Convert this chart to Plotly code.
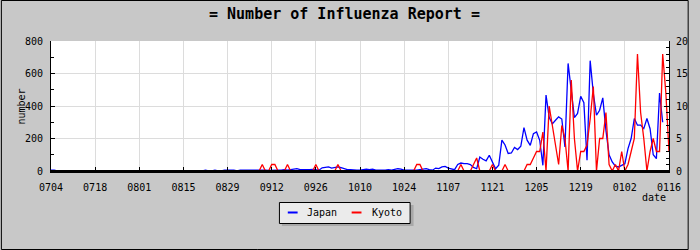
import pandas as pd
import plotly.graph_objects as go

# ---- data (daily reports, 2009-07-04 .. 2010-01-16) ----
start_date = "2009-07-04"
end_date = "2010-01-16"
dates = pd.date_range(start_date, end_date, freq="D")

japan = (
    [5, 5] + [0] * 47 +
    [5, 0, 0, 5, 0, 0, 5, 5, 5, 5, 0, 5, 5, 5, 5, 5, 8, 5, 5, 5,      # 49-68
     3, 5, 5, 5, 5, 8, 5, 8, 10, 14, 8, 8, 5, 8, 10, 8, 5, 20, 22, 25,  # 69-88
     18, 22, 25, 20, 15, 8, 8, 5, 5, 5, 8, 12, 8, 12, 5, 5, 3, 5, 8, 5,  # 89-108
     10, 14, 12, 5, 5, 3, 5, 5, 8, 12, 14, 8, 5, 18, 15, 25, 28, 18, 12, 8,  # 109-128
     40, 49, 45, 45, 40, 22, 14, 86, 72, 62, 97, 55, 14, 35, 190, 160, 108, 111, 145, 132,
     152, 267, 190, 158, 230, 240, 189, 35, 467, 330, 290, 312, 333, 320, 148, 662, 477, 329, 354, 460,
     420, 66, 679, 477, 343, 374, 450, 250, 100, 56, 30, 25, 35, 45, 138, 200, 323, 282, 282, 261,
     323, 260, 100, 76, 480, 300]
)

kyoto = (
    [0] * 67 +
    [1, 0, 0, 1, 1, 0, 0, 0, 1] + [0] * 8 +
    [1] + [0] * 6 + [1] + [0] * 24 +
    [1, 1] + [0] * 12 +
    [1, 0, 0, 0, 1, 2, 0, 0, 0, 0, 1, 0, 0, 0, 1, 0, 0, 0, 0, 0,
     0, 1, 1, 2, 3, 3, 6, 0, 10, 7, 4, 1, 7, 5, 0, 14, 5, 0, 3, 3,
     4, 8, 13, 0, 5, 5, 9, 1, 0, 1, 0, 3, 0, 1, 3, 5, 18, 9, 5, 0,
     3, 5, 3, 3, 18, 12, 3]
)

series_names = ["Japan", "Kyoto"]
series_colors = ["#0000ff", "#ff0000"]
left_ticks = [0, 200, 400, 600, 800]
right_ticks = [0, 5, 10, 15, 20]

MONO = "DejaVu Sans Mono"

fig = go.Figure()
fig.add_trace(go.Scatter(x=dates[:len(japan)], y=japan, name=series_names[0], mode="lines",
                         line=dict(color=series_colors[0], width=1.3), yaxis="y",
                         showlegend=False))
fig.add_trace(go.Scatter(x=dates[:len(kyoto)], y=kyoto, name=series_names[1], mode="lines",
                         line=dict(color=series_colors[1], width=1.3), yaxis="y2",
                         showlegend=False))

L, R, T, B = 51, 20, 41, 79
W, H = 700, 250
pw, ph = W - L - R, H - T - B

def px_x(px):
    return (px - L) / pw

def px_y(py):
    return (H - B - py) / ph

shapes = [
    # outer frame
    dict(type="rect", xref="paper", yref="paper",
         x0=px_x(0.5), x1=px_x(699.5), y0=px_y(249.5), y1=px_y(0.5),
         line=dict(color="#000000", width=1), layer="below"),
    # bottom axis line drawn over both overlaid subplots
    dict(type="line", xref="paper", yref="paper",
         x0=0, x1=1, y0=0, y1=0,
         line=dict(color="#000000", width=2), layer="above"),
    # legend shadow
    dict(type="rect", xref="paper", yref="paper",
         x0=px_x(286), x1=px_x(420), y0=px_y(226), y1=px_y(205),
         fillcolor="#a8a8a8", line=dict(width=0), layer="above"),
    # legend box
    dict(type="rect", xref="paper", yref="paper",
         x0=px_x(283.5), x1=px_x(416.5), y0=px_y(223.5), y1=px_y(202.5),
         fillcolor="#ebebeb", line=dict(color="#000000", width=1), layer="above"),
]
annotations = [
    dict(text="<b>= Number of Influenza Report =</b>", xref="paper", yref="paper",
         x=px_x(350), y=px_y(14), xanchor="center", yanchor="middle",
         showarrow=False, font=dict(family=MONO, size=15)),
    dict(text="date", xref="paper", yref="paper",
         x=px_x(679), y=px_y(197), xanchor="right", yanchor="middle",
         showarrow=False, font=dict(family=MONO, size=10)),
    dict(text="number", xref="paper", yref="paper", textangle=-90,
         x=px_x(20), y=px_y(107), xanchor="center", yanchor="middle",
         showarrow=False, font=dict(family=MONO, size=10)),
]
# legend entries
leg_line_x = [292, 357]
leg_text_x = [310, 376]
for name, color, lx, tx in zip(series_names, series_colors, leg_line_x, leg_text_x):
    shapes.append(dict(type="line", xref="paper", yref="paper",
                       x0=px_x(lx), x1=px_x(lx + 10), y0=px_y(212.5), y1=px_y(212.5),
                       line=dict(color=color, width=2), layer="above"))
    annotations.append(dict(text=name, xref="paper", yref="paper",
                            x=px_x(tx), y=px_y(212.5), xanchor="left", yanchor="middle",
                            showarrow=False, font=dict(family=MONO, size=10)))

fig.update_layout(
    width=W, height=H,
    margin=dict(l=L, r=R, t=T, b=B),
    paper_bgcolor="#c8c8c8",
    plot_bgcolor="#ffffff",
    font=dict(family=MONO, size=10, color="#000000"),
    showlegend=False,
    xaxis=dict(type="date", range=[start_date, end_date],
               tick0=start_date, dtick=14 * 86400000, tickformat="%m%d",
               ticks="inside", ticklen=4, tickcolor="#000000",
               showgrid=True, gridcolor="#dcdcdc", gridwidth=1,
               showline=True, linecolor="#000000", linewidth=1.5,
               zeroline=False, ticklabelstandoff=6, layer="above traces",
               tickfont=dict(family=MONO, size=10)),
    yaxis=dict(range=[0, 800], tickvals=left_ticks,
               ticks="inside", ticklen=4, tickcolor="#000000",
               minor=dict(dtick=100, ticks="inside", ticklen=3, tickcolor="#000000", showgrid=False),
               showgrid=True, gridcolor="#dcdcdc", gridwidth=1,
               showline=True, linecolor="#000000", linewidth=1,
               zeroline=False, ticklabelstandoff=5,
               tickfont=dict(family=MONO, size=10)),
    yaxis2=dict(range=[0, 20], tickvals=right_ticks, overlaying="y", side="right",
                ticks="inside", ticklen=5, tickcolor="#000000",
                minor=dict(dtick=1, ticks="inside", ticklen=3, tickcolor="#000000", showgrid=False),
                showgrid=False, showline=True, linecolor="#000000", linewidth=1,
                zeroline=False, ticklabelstandoff=4,
                tickfont=dict(family=MONO, size=10)),
    annotations=annotations,
    shapes=shapes,
)

fig.write_html("out.html")
